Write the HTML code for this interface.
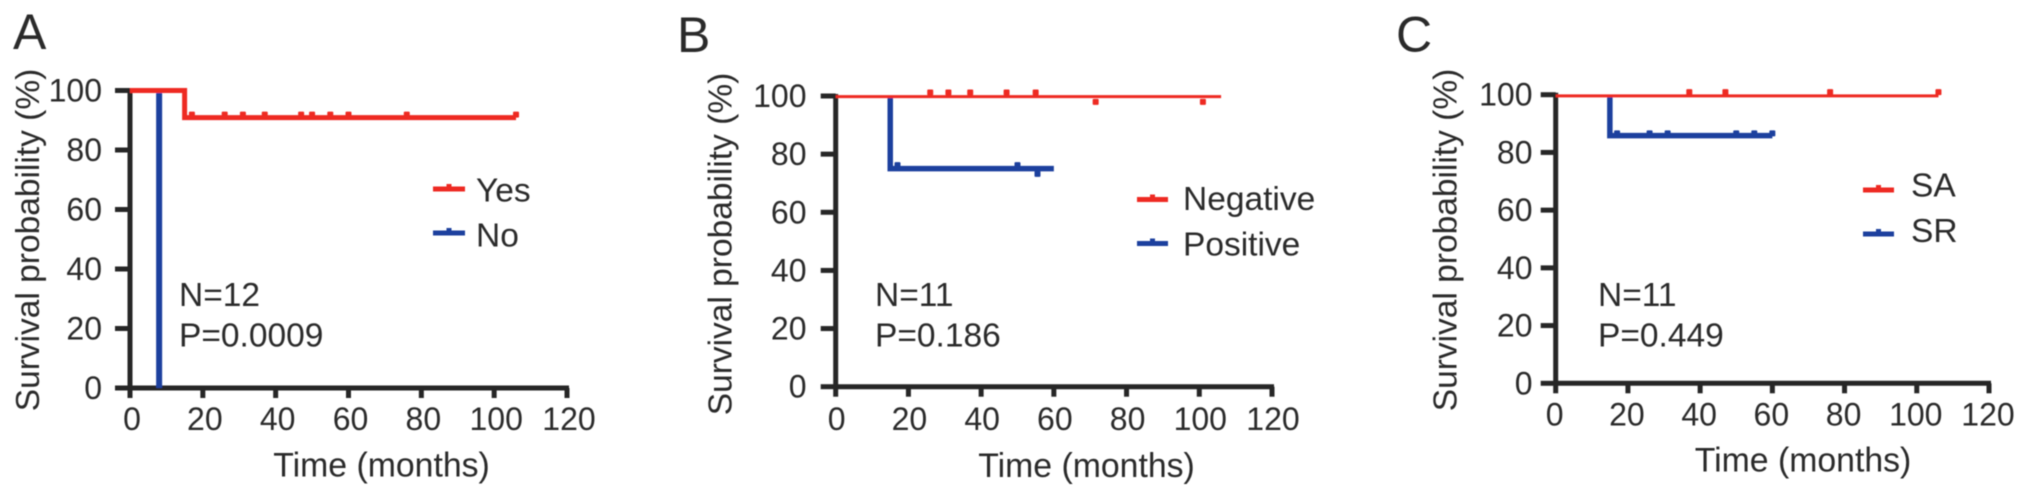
<!DOCTYPE html>
<html lang="en">
<head>
<meta charset="utf-8">
<title>Survival curves</title>
<style>
html,body{margin:0;padding:0;background:#fff;}
svg{display:block;}
text{font-family:"Liberation Sans",sans-serif;fill:#2a2a2a;}
#marks,#labels{filter:url(#soft);}
</style>
</head>
<body>
<svg id="figure" width="2032" height="497" viewBox="0 0 2032 497" xmlns="http://www.w3.org/2000/svg">
<defs><filter id="soft" x="0" y="0" width="100%" height="100%" filterUnits="userSpaceOnUse" primitiveUnits="userSpaceOnUse"><feGaussianBlur stdDeviation="0.55"/></filter></defs>
<g id="marks"></g>
<g id="labels"></g>
</svg>
<script>
// Shared axis ticks
const xTickValues = [0, 20, 40, 60, 80, 100, 120];
const yTickValues = [0, 20, 40, 60, 80, 100];

// Panel A
const aYesTime = [0, 15, 15, 106];
const aYesSurvival = [100, 100, 90.9, 90.9];
const aYesCensorTime = [17, 26, 31, 37, 47, 50, 55, 60, 76, 106];
const aYesCensorSurvival = [91.9, 91.9, 91.9, 91.9, 91.9, 91.9, 91.9, 91.9, 91.9, 91.9];
const aNoTime = [8, 8];
const aNoSurvival = [100, 0];
const aNoCensorTime = [];
const aNoCensorSurvival = [];

// Panel B
const bNegativeTime = [0, 106];
const bNegativeSurvival = [99.8, 99.8];
const bNegativeCensorTime = [26, 31, 37, 47, 55, 71.5, 101];
const bNegativeCensorSurvival = [101.2, 101.2, 101.2, 101.2, 101.2, 98, 98];
const bPositiveTime = [15, 15, 60];
const bPositiveSurvival = [100, 75, 75];
const bPositiveCensorTime = [17, 50, 55.5];
const bPositiveCensorSurvival = [76.2, 76.2, 73.2];

// Panel C
const cSaTime = [0, 106];
const cSaSurvival = [99.6, 99.6];
const cSaCensorTime = [37, 47, 76, 106];
const cSaCensorSurvival = [100.9, 100.9, 100.9, 100.9];
const cSrTime = [15, 15, 60];
const cSrSurvival = [100, 85.8, 85.8];
const cSrCensorTime = [17, 26, 31, 50, 55, 60];
const cSrCensorSurvival = [86.6, 86.6, 86.6, 86.6, 86.6, 86.6];

const RED = '#ee2a24';
const BLUE = '#1c3f9e';
const INK = '#262626';
const NS = 'http://www.w3.org/2000/svg';
const marks = document.getElementById('marks');
const labels = document.getElementById('labels');

const panels = [
  {
    id: 'a', letter: 'A', letterX: 13, letterY: 49,
    x0: 130, x120: 567, y0: 388, y100: 90.5,
    yLabelRight: 102, xLabelBase: 430, xLabelShift: 2,
    yTitleX: 39, yTitleY: 240, xTitleX: 381.5, xTitleY: 476.5,
    nText: 'N=12', pText: 'P=0.0009', noteX: 179, nY: 306, pY: 346.5,
    legendLineX1: 433, legendLineX2: 465, legendTextX: 476,
    legendLineY: [189, 233], legendTextY: [201.5, 246.5],
    series: [
      { name: 'Yes', color: RED, width: 5, time: aYesTime, surv: aYesSurvival, ct: aYesCensorTime, cs: aYesCensorSurvival },
      { name: 'No', color: BLUE, width: 6, time: aNoTime, surv: aNoSurvival, ct: aNoCensorTime, cs: aNoCensorSurvival }
    ]
  },
  {
    id: 'b', letter: 'B', letterX: 677, letterY: 52,
    x0: 835.7, x120: 1272, y0: 386.7, y100: 96,
    yLabelRight: 806.5, xLabelBase: 430, xLabelShift: 1,
    yTitleX: 731.5, yTitleY: 244, xTitleX: 1086.5, xTitleY: 477,
    nText: 'N=11', pText: 'P=0.186', noteX: 875, nY: 306, pY: 346.5,
    legendLineX1: 1137, legendLineX2: 1168, legendTextX: 1183,
    legendLineY: [199.5, 243.5], legendTextY: [210, 255.5],
    series: [
      { name: 'Negative', color: RED, width: 3, time: bNegativeTime, surv: bNegativeSurvival, ct: bNegativeCensorTime, cs: bNegativeCensorSurvival },
      { name: 'Positive', color: BLUE, width: 5.5, time: bPositiveTime, surv: bPositiveSurvival, ct: bPositiveCensorTime, cs: bPositiveCensorSurvival }
    ]
  },
  {
    id: 'c', letter: 'C', letterX: 1396, letterY: 51.5,
    x0: 1555.7, x120: 1989, y0: 383.3, y100: 94.7,
    yLabelRight: 1532.5, xLabelBase: 425.5, xLabelShift: -1,
    yTitleX: 1456.5, yTitleY: 240, xTitleX: 1803, xTitleY: 471.5,
    nText: 'N=11', pText: 'P=0.449', noteX: 1598, nY: 306, pY: 346.5,
    legendLineX1: 1863, legendLineX2: 1894, legendTextX: 1911,
    legendLineY: [190, 234], legendTextY: [196.5, 242],
    series: [
      { name: 'SA', color: RED, width: 3, time: cSaTime, surv: cSaSurvival, ct: cSaCensorTime, cs: cSaCensorSurvival },
      { name: 'SR', color: BLUE, width: 5.5, time: cSrTime, surv: cSrSurvival, ct: cSrCensorTime, cs: cSrCensorSurvival }
    ]
  }
];

function svgEl(tag, attrs, parent) {
  const el = document.createElementNS(NS, tag);
  for (const k in attrs) el.setAttribute(k, attrs[k]);
  parent.appendChild(el);
  return el;
}

function addText(str, attrs, size, parent) {
  const t = svgEl('text', attrs, parent);
  t.setAttribute('font-size', size);
  t.textContent = str;
  return t;
}

panels.forEach(function (p) {
  const xScale = function (t) { return p.x0 + (p.x120 - p.x0) * t / 120; };
  const yScale = function (v) { return p.y0 + (p.y100 - p.y0) * v / 100; };

  const panelMarks = svgEl('g', {}, marks);
  
  
  const panelLabels = svgEl('g', {}, labels);
  
  

  // Panel letter
  const letter = addText(p.letter, { x: p.letterX, y: p.letterY }, 50, panelLabels);
  
  

  // Axes
  const yAxis = svgEl('line', { x1: p.x0, x2: p.x0, y1: yScale(100) - 2, y2: p.y0 + 2, stroke: INK, 'stroke-width': 5 }, panelMarks);
  
  
  const xAxis = svgEl('line', { x1: p.x0, x2: xScale(120) + 2, y1: p.y0, y2: p.y0, stroke: INK, 'stroke-width': 5 }, panelMarks);
  
  

  yTickValues.forEach(function (v) {
    const tick = svgEl('line', { x1: p.x0 - 15, x2: p.x0, y1: yScale(v), y2: yScale(v), stroke: INK, 'stroke-width': 5 }, panelMarks);
    
    
    const lab = addText(String(v), { x: p.yLabelRight, y: yScale(v) + 11, 'text-anchor': 'end' }, 32, panelLabels);
    
    
  });

  xTickValues.forEach(function (v) {
    const tick = svgEl('line', { x1: xScale(v), x2: xScale(v), y1: p.y0, y2: p.y0 + 10, stroke: INK, 'stroke-width': 5 }, panelMarks);
    
    
    const lab = addText(String(v), { x: xScale(v) + p.xLabelShift, y: p.xLabelBase, 'text-anchor': 'middle' }, 32, panelLabels);
    
    
  });

  // Axis titles
  const yTitle = addText('Survival probability (%)', { x: p.yTitleX, y: p.yTitleY, 'text-anchor': 'middle', transform: 'rotate(-90 ' + p.yTitleX + ' ' + p.yTitleY + ')' }, 33.5, panelLabels);
  
  
  const xTitle = addText('Time (months)', { x: p.xTitleX, y: p.xTitleY, 'text-anchor': 'middle' }, 33.8, panelLabels);
  
  

  // Annotation
  const nNote = addText(p.nText, { x: p.noteX, y: p.nY }, 33.5, panelLabels);
  
  
  const pNote = addText(p.pText, { x: p.noteX, y: p.pY }, 33.5, panelLabels);
  
  

  // Series (drawn blue first, red on top)
  p.series.slice().reverse().forEach(function (s) {
    const pts = s.time.map(function (t, i) { return xScale(t) + ',' + yScale(s.surv[i]); }).join(' ');
    const line = svgEl('polyline', { points: pts, fill: 'none', stroke: s.color, 'stroke-width': s.width, 'stroke-linejoin': 'miter' }, panelMarks);
    
    
    s.ct.forEach(function (t, i) {
      const c = svgEl('rect', { x: xScale(t) - 3, y: yScale(s.cs[i]) - 3, width: 6, height: 6, rx: 1, fill: s.color }, panelMarks);
      
      
    });
  });

  // Legend
  p.series.forEach(function (s, i) {
    const ly = p.legendLineY[i];
    const swatch = svgEl('line', { x1: p.legendLineX1, x2: p.legendLineX2, y1: ly, y2: ly, stroke: s.color, 'stroke-width': 5 }, panelMarks);
    
    
    const bump = svgEl('rect', { x: (p.legendLineX1 + p.legendLineX2) / 2 - 2.5, y: ly - 5, width: 5, height: 5, fill: s.color }, panelMarks);
    
    
    const txt = addText(s.name, { x: p.legendTextX, y: p.legendTextY[i] }, 33.5, panelLabels);
    
    
  });
});
</script>
</body>
</html>
